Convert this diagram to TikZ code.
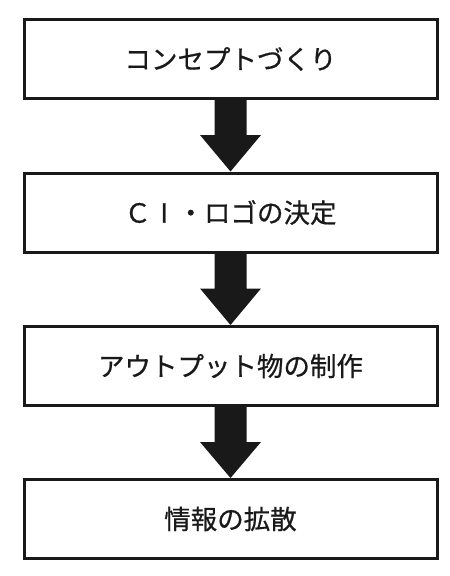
\documentclass[tikz,border=0pt]{standalone}
\usepackage{fontspec}
\newfontfamily\jp[FakeBold=0.6]{Noto Sans CJK JP}
\begin{document}
\begin{tikzpicture}[x=1pt,y=-1pt,
  stepbox/.style={draw=black!90, line width=3pt, fill=white, minimum width=413pt, minimum height=79pt, inner sep=0pt, font=\jp\fontsize{26.5}{30}\selectfont, text=black!90},
  blockarrow/.style={fill=black!90, draw=none}]
\useasboundingbox (0,0) rectangle (450,576);
\node[stepbox] (b1) at (230.5,59) {コンセプトづくり};
\node[stepbox] (b2) at (230.5,212.5) {Ｃ\makebox[1em]{I}・ロゴの決定};
\node[stepbox] (b3) at (230.5,366) {アウトプット物の制作};
\node[stepbox] (b4) at (230.5,519) {情報の拡散};
\foreach \a/\b in {b1/b2,b2/b3,b3/b4}{
  \fill[blockarrow] ([xshift=-16pt]\a.south) -- ([xshift=16pt]\a.south)
    -- ([xshift=16pt,yshift=-35pt]\a.south) -- ([xshift=30.5pt,yshift=-35pt]\a.south)
    -- (\b.north) -- ([xshift=-30.5pt,yshift=-35pt]\a.south)
    -- ([xshift=-16pt,yshift=-35pt]\a.south) -- cycle;
}
\end{tikzpicture}
\end{document}
